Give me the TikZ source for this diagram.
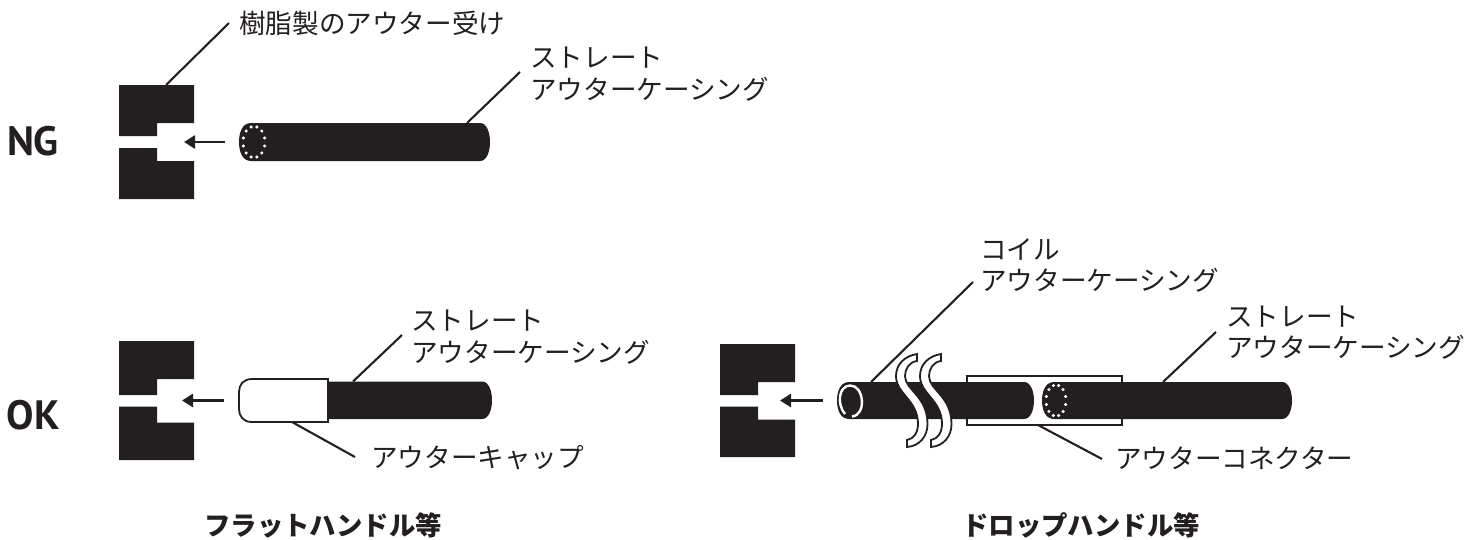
\documentclass[tikz,border=0pt]{standalone}
\usepackage{fontspec}
\setmainfont{Noto Sans CJK JP}
\newfontfamily\markfont{PT Sans}
\usetikzlibrary{arrows.meta}
\definecolor{inkblack}{HTML}{231F20}

% receiver block, upper and lower half, notch towards the right
\newcommand{\blockshape}[7]{%
  \fill[inkblack] (#1,#2) -- (#1+75,#2) -- (#1+75,#3) -- (#1+38,#3) -- (#1+38,#4) -- (#1,#4) -- cycle;
  \fill[inkblack] (#1,#5) -- (#1+38,#5) -- (#1+38,#6) -- (#1+75,#6) -- (#1+75,#7) -- (#1,#7) -- cycle;
}
% tube with elliptic ends
\newcommand{\tubeshape}[4]{%
  \fill[inkblack] (#1+12,#3) -- (#2-10,#3) .. controls (#2-3,#3) and (#2,#3+10) .. (#2,#3/2+#4/2)
    .. controls (#2,#4-10) and (#2-3,#4) .. (#2-10,#4) -- (#1+12,#4)
    .. controls (#1+3,#4) and (#1,#4-10) .. (#1,#3/2+#4/2)
    .. controls (#1,#3+10) and (#1+3,#3) .. (#1+12,#3) -- cycle;
}
% dotted tube mouth
\newcommand{\dotring}[4]{%
  \foreach \a in {15,45,...,345}
    \fill[white] ({#1+#3*cos(\a)},{#2+#4*sin(\a)}) circle (1.7);
}

\begin{document}
\begin{tikzpicture}[x=1pt,y=-1pt,
    leader/.style={draw=inkblack,line width=2.1pt},
    push/.style={draw=inkblack,line width=2.7pt,-{Triangle[length=11pt,width=13pt]}},
    tag/.style={anchor=west,align=left,inner sep=0pt,text=inkblack,font=\fontsize{26.6}{31.5}\selectfont},
    rowmark/.style={inner sep=0pt,text=inkblack,font=\fontsize{41}{41}\markfont\bfseries},
    caption/.style={inner sep=0pt,text=inkblack,font=\fontsize{26.4}{30}\selectfont\bfseries}]
    \useasboundingbox (0,0) rectangle (1481,539);

    % row marks and captions
    \node[rowmark] (ng) at (33,141) {NG};
    \node[rowmark] (ok) at (33,415) {OK};
    \node[caption,anchor=west] (flat) at (204,525) {フラットハンドル等};
    \node[caption,anchor=west] (drop) at (962,525) {ドロップハンドル等};

    % NG row
    \blockshape{119}{85}{123}{136}{148}{161}{199}
    \tubeshape{239}{490}{123}{161}
    \dotring{254}{142}{11}{15.5}
    \coordinate (ngTubeL) at (239,142);
    \coordinate (ngSlot) at (184,142);
    \draw[push] ([xshift=-14pt]ngTubeL) -- (ngSlot);

    \node[tag] (ngBlockText) at (239,23) {樹脂製のアウター受け};
    \node[tag] (ngTubeText) at (530,74) {ストレート\\アウターケーシング};
    \coordinate (ngBlockTop) at (166,85);
    \coordinate (ngTubeTop) at (467,123);
    \draw[leader] (ngBlockTop) -- ([xshift=-10pt]ngBlockText.west);
    \draw[leader] (ngTubeTop) -- (520,72);

    % OK row, flat handle
    \blockshape{119}{341}{379}{395}{406.5}{422.5}{460}
    \tubeshape{310}{492}{381.5}{419}
    \draw[draw=inkblack,fill=white,line width=1.8pt]
        (328,379) -- (252,379) .. controls (243,379) and (239,385) .. (239,392) -- (239,409)
        .. controls (239,416) and (243,422) .. (252,422) -- (328,422) -- cycle;
    \coordinate (capEnd) at (238,400.5);
    \coordinate (flatSlot) at (182,400.5);
    \draw[push] ([xshift=-14pt]capEnd) -- (flatSlot);

    \node[tag] (flatTubeText) at (411,337) {ストレート\\アウターケーシング};
    \node[tag] (capText) at (371,458) {アウターキャップ};
    \coordinate (flatTubeTop) at (353,381.5);
    \coordinate (capBottom) at (292,422);
    \draw[leader] (flatTubeTop) -- (402,335);
    \draw[leader] (capBottom) -- (355,457);

    % OK row, drop handle
    \blockshape{720}{344}{382}{395}{406.5}{419.5}{457}
    \draw[draw=inkblack,fill=white,line width=2pt] (967,376) rectangle (1122,425);
    \tubeshape{837}{1034}{382}{419}
    \tubeshape{1042}{1292}{382}{419}
    \dotring{1056}{400.5}{10}{15.5}
    \draw[white,line width=2.4pt] (845,414) .. controls (837,405) and (838,386) .. (850,385.5)
        .. controls (864,385) and (867,415) .. (852,416.5);
    \foreach \sx in {0,24}
      \draw[xshift=\sx pt,draw=inkblack,fill=white,line width=1.8pt]
        (917,354) .. controls (904,356) and (896,365) .. (896,376)
        .. controls (896,394) and (918,400) .. (918,424)
        .. controls (918,432) and (914,439) .. (907,440) -- (907,447)
        .. controls (920,446) and (927.5,436) .. (927.5,424)
        .. controls (927.5,396) and (905,390) .. (905,376)
        .. controls (905,369) and (909,362) .. (917,361) -- cycle;
    \coordinate (coilEnd) at (837,400.5);
    \coordinate (dropSlot) at (780,400.5);
    \draw[push] ([xshift=-14pt]coilEnd) -- (dropSlot);

    \node[tag] (coilText) at (980,265.5) {コイル\\アウターケーシング};
    \node[tag] (dropTubeText) at (1226,332.5) {ストレート\\アウターケーシング};
    \node[tag] (connText) at (1115,458) {アウターコネクター};
    \coordinate (coilTop) at (871,382);
    \coordinate (dropTubeTop) at (1163,382);
    \coordinate (connBottom) at (1038,425);
    \draw[leader] (coilTop) -- (973,282);
    \draw[leader] (dropTubeTop) -- (1216,332);
    \draw[leader] (connBottom) -- (1102,459);
\end{tikzpicture}
\end{document}
